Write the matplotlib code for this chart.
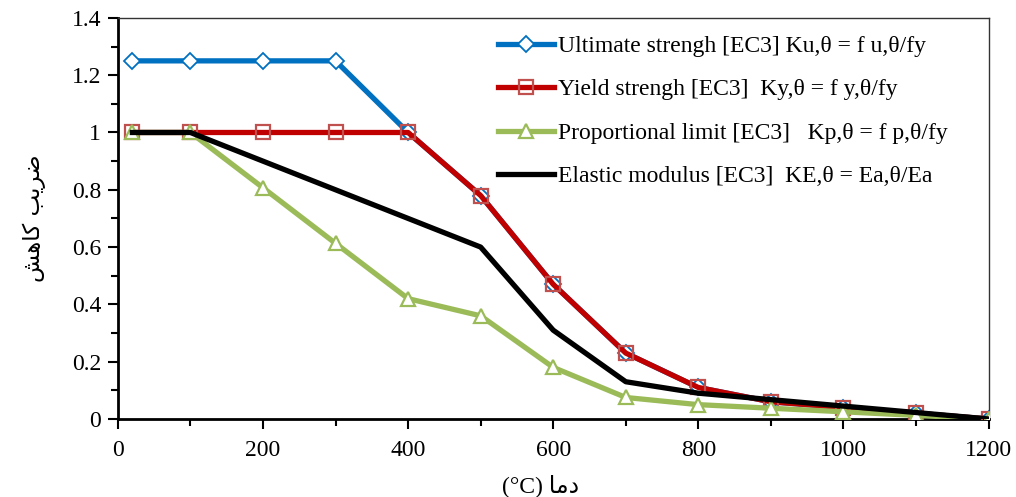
import numpy as np
import matplotlib
matplotlib.use("Agg")
import matplotlib.pyplot as plt
from matplotlib.ticker import MultipleLocator

# Temperatures (°C) and EC3 reduction factors
temps = [20, 100, 200, 300, 400, 500, 600, 700, 800, 900, 1000, 1100, 1200]
k_u = [1.25, 1.25, 1.25, 1.25, 1.0, 0.78, 0.47, 0.23, 0.11, 0.06, 0.04, 0.02, 0.0]
k_y = [1.0, 1.0, 1.0, 1.0, 1.0, 0.78, 0.47, 0.23, 0.11, 0.06, 0.04, 0.02, 0.0]
k_p = [1.0, 1.0, 0.807, 0.613, 0.42, 0.36, 0.18, 0.075, 0.05, 0.0375, 0.025, 0.0125, 0.0]
k_e = [1.0, 1.0, 0.9, 0.8, 0.7, 0.6, 0.31, 0.13, 0.09, 0.0675, 0.045, 0.0225, 0.0]

labels = [
    "Ultimate strengh [EC3] Ku,\u03b8 = f u,\u03b8/fy",
    "Yield strengh [EC3]  Ky,\u03b8 = f y,\u03b8/fy",
    "Proportional limit [EC3]   Kp,\u03b8 = f p,\u03b8/fy",
    "Elastic modulus [EC3]  KE,\u03b8 = Ea,\u03b8/Ea",
]
ytick_labels = ["0", "0.2", "0.4", "0.6", "0.8", "1", "1.2", "1.4"]

# Persian axis titles, pre-shaped (presentation forms, visual order)
y_title = "\ufeb6\ufeeb\ufe8e\ufb90 \ufe90\ufbfe\ufeae\ufebf"   # ضریب کاهش
x_title = "(\u00b0C) \ufe8e\ufee3\ufea9"                          # دما (°C)

plt.rcParams["font.family"] = ["Liberation Serif", "DejaVu Sans"]

fig = plt.figure(figsize=(10.16, 4.97), dpi=100)
ax = fig.add_axes([0.116, 0.157, 0.857, 0.807])

ax.plot(temps, k_u, color="#0070C0", lw=3.8, marker="D", ms=8.5,
        mfc="white", mec="#0070C0", mew=1.3, label=labels[0], zorder=2)
ax.plot(temps, k_y, color="#C00000", lw=3.8, marker="s", ms=10,
        mfc="none", mec="#C0504D", mew=1.6, label=labels[1], zorder=3)
ax.plot(temps, k_p, color="#9BBB59", lw=3.8, marker="^", ms=10,
        mfc="white", mec="#9BBB59", mew=1.6, label=labels[2], zorder=4)
ax.plot(temps, k_e, color="black", lw=3.8, label=labels[3], zorder=5)

ax.set_xlim(0, 1200)
ax.set_ylim(0, 1.4)
ax.xaxis.set_major_locator(MultipleLocator(200))
ax.xaxis.set_minor_locator(MultipleLocator(100))
ax.yaxis.set_minor_locator(MultipleLocator(0.1))
ax.set_yticks(np.arange(0, 1.41, 0.2))
ax.set_yticklabels(ytick_labels)

ax.tick_params(which="major", direction="out", length=7, width=1.5, labelsize=17)
ax.tick_params(axis="x", which="major", pad=8)
ax.tick_params(axis="y", which="major", pad=5)
ax.tick_params(which="minor", direction="out", length=5, width=1.5)
for side in ["left", "bottom"]:
    ax.spines[side].set_linewidth(2)
for side in ["top", "right"]:
    ax.spines[side].set_linewidth(1)
    ax.spines[side].set_color("#333333")

ax.set_ylabel(y_title, fontsize=16.5, family=["DejaVu Sans"])
ax.yaxis.set_label_coords(-0.082, 0.5)
ax.set_xlabel(x_title, fontsize=17, family=["Liberation Serif", "DejaVu Sans"])
ax.xaxis.set_label_coords(0.486, -0.137)

ax.legend(loc="upper left", frameon=False, fontsize=17, handlelength=2.35,
          handletextpad=0.2, labelspacing=0.93, borderaxespad=0.0,
          bbox_to_anchor=(0.426, 0.98))

fig.savefig("out.png", dpi=100)
